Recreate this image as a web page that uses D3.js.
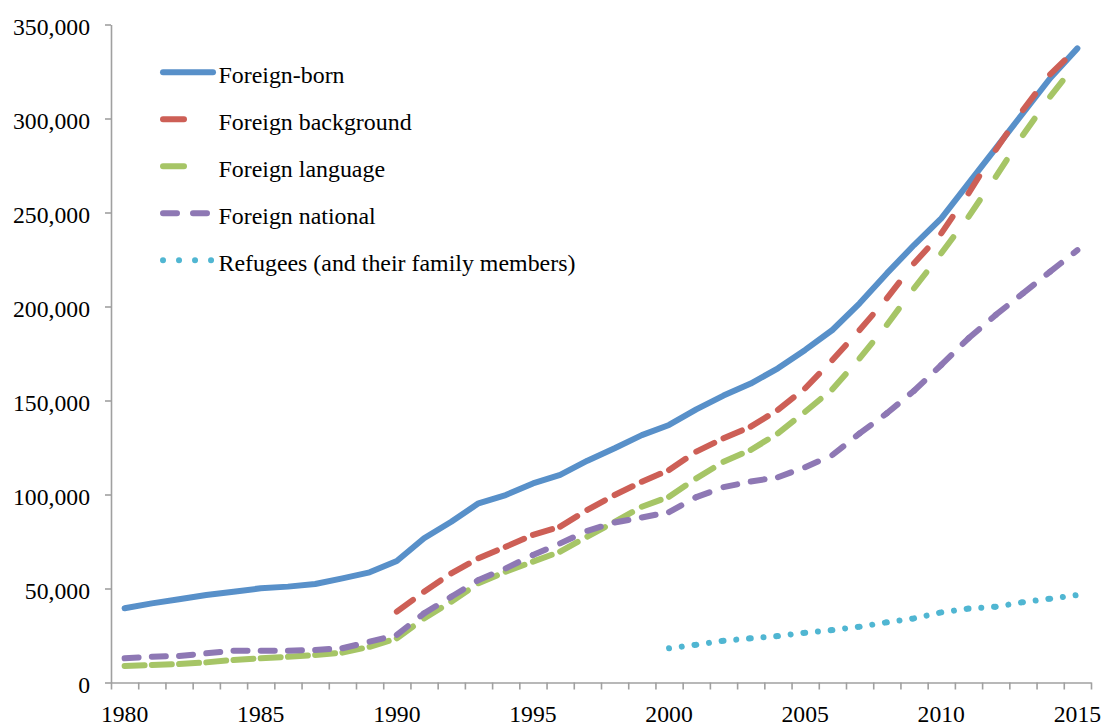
<!DOCTYPE html>
<html>
<head>
<meta charset="utf-8">
<script src="https://cdn.jsdelivr.net/npm/d3@7"></script>
<style>
  body { margin: 0; background: #fff; }
  svg { display: block; }
  text { font-family: "Liberation Serif", "Times New Roman", serif; fill: #000; }
</style>
</head>
<body>
<svg width="1101" height="725"></svg>
<script>
// categories
const years = [1980, 1981, 1982, 1983, 1984, 1985, 1986, 1987, 1988, 1989,
  1990, 1991, 1992, 1993, 1994, 1995, 1996, 1997, 1998, 1999,
  2000, 2001, 2002, 2003, 2004, 2005, 2006, 2007, 2008, 2009,
  2010, 2011, 2012, 2013, 2014, 2015];
const yearLabels = [1980, 1985, 1990, 1995, 2000, 2005, 2010, 2015];
const yTicks = [0, 50000, 100000, 150000, 200000, 250000, 300000, 350000];

// series
const foreignBorn = [39500, 42100, 44300, 46500, 48300, 50100, 51000, 52400, 55400, 58600,
  64600, 76700, 85500, 95300, 99700, 105900, 110400, 118000, 124600, 131600,
  137000, 145300, 152600, 159000, 167100, 176900, 187500, 201700, 217600, 232700,
  246900, 265500, 284100, 302800, 321400, 337300];
const foreignBackgroundStart = 1990;
const foreignBackground = [37700, 48300, 58100, 66100, 72200, 78500, 82900, 91800, 99700, 106800,
  113000, 122800, 129900, 136100, 145000, 156500, 171500, 187500, 204300, 223000,
  238900, 260200, 283300, 304500, 323500, 337500];
const foreignLanguage = [8800, 9300, 9800, 10700, 12000, 12900, 13700, 14600, 15900, 19000,
  23500, 34100, 43000, 52800, 58900, 64300, 69600, 77600, 85500, 93500,
  98800, 108600, 117400, 123700, 132500, 144000, 156000, 172400, 190200, 209700,
  228300, 247700, 269000, 291200, 311600, 330000];
const foreignNational = [12900, 13700, 14100, 15500, 16900, 16900, 16900, 17300, 18200, 21700,
  25300, 36800, 45600, 54500, 60700, 67800, 74000, 80700, 85100, 87800,
  90600, 98600, 103900, 106900, 109200, 114500, 121000, 132500, 143200, 155200,
  168900, 183100, 195500, 207000, 218500, 230000];
const refugeesStart = 2000;
const refugees = [18200, 20100, 22200, 23500, 24700, 26500, 27900, 29700, 32000, 34100,
  37300, 39300, 40300, 42700, 44600, 46500];

const toPoints = (start, values) => values.map((v, i) => ({year: start + i, value: v}));

const series = [
  {name: 'Foreign-born', color: '#5890c9', dash: null, legendDash: null,
    points: toPoints(1980, foreignBorn)},
  {name: 'Foreign background', color: '#cd5f56', dash: '20,40', legendDash: '21,40',
    points: toPoints(foreignBackgroundStart, foreignBackground)},
  {name: 'Foreign language', color: '#a6c566', dash: '20,40', legendDash: '21,40',
    points: toPoints(1980, foreignLanguage)},
  {name: 'Foreign national', color: '#8e78b4', dash: '14,16', legendDash: '14,16',
    points: toPoints(1980, foreignNational)},
  {name: 'Refugees (and their family members)', color: '#50b6d2', dash: '0.01,12.8', legendDash: '0.01,16',
    points: toPoints(refugeesStart, refugees)},
];

const svg = d3.select('svg');
const x0 = 111, x1 = 1091;
const x = d3.scaleLinear().domain([years[0] - 0.5, years[years.length - 1] + 0.5]).range([x0, x1]);
const y = d3.scaleLinear().domain([0, 350000]).range([682.5, 24.5]);

const axisColor = '#a0a0a0';

// y axis
const yAxis = svg.append('g')
  .attr('transform', `translate(${x0},0)`)
  .call(d3.axisLeft(y).tickValues(yTicks).tickFormat(d3.format(',')).tickSize(6).tickSizeOuter(0).tickPadding(15));
yAxis.select('.domain').attr('stroke', axisColor).attr('stroke-width', 1.6);
yAxis.selectAll('.tick line').attr('stroke', axisColor).attr('stroke-width', 1.6);
yAxis.selectAll('.tick text')
  .attr('font-size', '23.7px')
  .attr('font-family', '"Liberation Serif", serif')
  .attr('fill', '#000')
  .attr('dy', null)
  .attr('y', 10.3);

// x axis: tick marks between categories, labels centred on categories
const boundaries = years.map((d) => d - 0.5).concat([years[years.length - 1] + 0.5]);
const xAxis = svg.append('g')
  .attr('transform', `translate(0,${y(0)})`)
  .call(d3.axisBottom(x).tickValues(boundaries).tickFormat('').tickSize(7).tickSizeOuter(0));
xAxis.select('.domain').attr('stroke', axisColor).attr('stroke-width', 1.6);
xAxis.selectAll('.tick line').attr('stroke', axisColor).attr('stroke-width', 1.6);

svg.append('g')
  .selectAll('text')
  .data(yearLabels)
  .join('text')
  .attr('x', (d) => x(d))
  .attr('y', y(0) + 39)
  .attr('text-anchor', 'middle')
  .attr('font-size', '23.7px')
  .text((d) => d);

// lines; dashed ones are drawn per segment so the pattern restarts at each point
const line = d3.line().x((d) => x(d.year)).y((d) => y(d.value));

series.forEach((s) => {
  const g = svg.append('g');
  if (!s.dash) {
    g.append('path')
      .attr('d', line(s.points))
      .attr('fill', 'none')
      .attr('stroke', s.color)
      .attr('stroke-width', 6)
      .attr('stroke-linecap', 'round')
      .attr('stroke-linejoin', 'round');
  } else {
    g.selectAll('path')
      .data(d3.pairs(s.points))
      .join('path')
      .attr('d', (d) => line(d))
      .attr('fill', 'none')
      .attr('stroke', s.color)
      .attr('stroke-width', 6)
      .attr('stroke-linecap', 'round')
      .attr('stroke-dasharray', s.dash);
  }
});

// legend
const legend = svg.append('g');
const legendRows = legend.selectAll('g')
  .data(series)
  .join('g')
  .attr('transform', (d, i) => `translate(0,${72.3 + i * 47})`);

legendRows.append('path')
  .attr('d', 'M163,0H213')
  .attr('fill', 'none')
  .attr('stroke', (d) => d.color)
  .attr('stroke-width', 6)
  .attr('stroke-linecap', 'round')
  .attr('stroke-dasharray', (d) => d.legendDash);

legendRows.append('text')
  .attr('x', 218.5)
  .attr('y', 11)
  .attr('font-size', '23.9px')
  .text((d) => d.name);
</script>
</body>
</html>
